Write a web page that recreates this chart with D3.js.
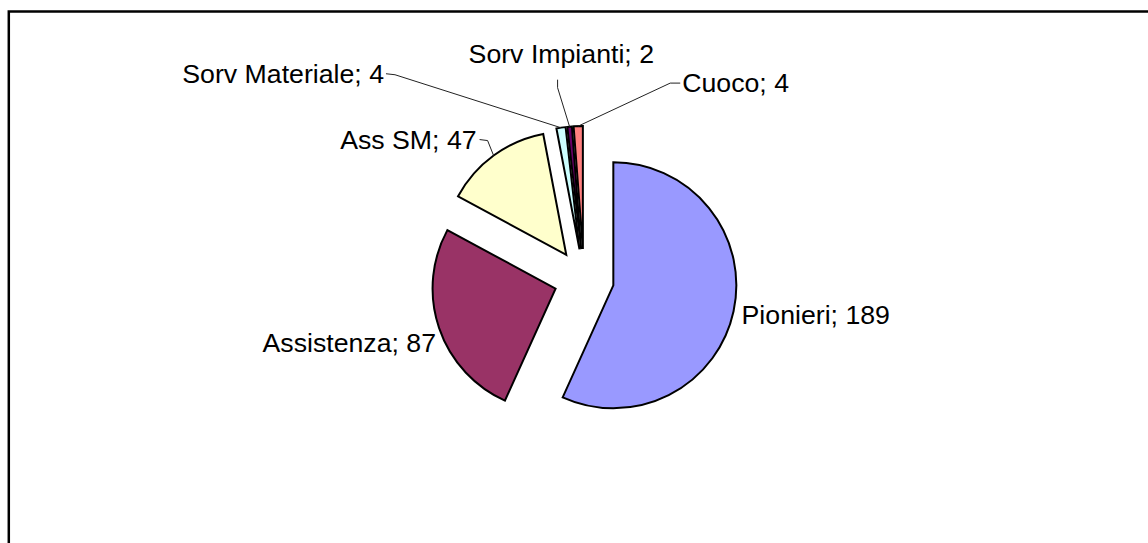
<!DOCTYPE html>
<html>
<head>
<meta charset="utf-8">
<script src="https://cdn.jsdelivr.net/npm/d3@7"></script>
<style>
  html, body { margin: 0; padding: 0; background: #fff; }
  svg { display: block; }
  text { font-family: "Liberation Sans", Arial, sans-serif; }
</style>
</head>
<body>
<svg id="chart" width="1148" height="543"></svg>
<script>
// ---- data ----
const categories = ["Pionieri", "Assistenza", "Ass SM", "Sorv Materiale", "Sorv Impianti", "Cuoco"];
const values = [189, 87, 47, 4, 2, 4];
const colors = ["#9999FF", "#993366", "#FFFFCC", "#CCFFFF", "#660066", "#FF8080"];

// ---- layout ----
const W = 1148, H = 543;
const cx = 584, cy = 279, radius = 123, explode = 30;
const fontSize = 26.7;
// label placement relative to the outer point of each slice's bisector
const labelLayout = [
  { anchor: "start", dx: 8,    dy: 13 },
  { anchor: "end",   dx: -3,   dy: 24 },
  { anchor: "end",   dx: -17,  dy: -7,  leader: [[3, -9], [11, -8]] },
  { anchor: "end",   dx: -177, dy: -45, leader: [[2, -9], [11, -8]] },
  { anchor: "start", dx: -101, dy: -64, leader: [[89, 17], [89, 25]] },
  { anchor: "start", dx: 104,  dy: -34, leader: [[-2, -9], [-12, -9]] }
];

const svg = d3.select("#chart");

// frame (only top and left edges visible in the picture)
svg.append("path")
  .attr("d", `M8.8,${H + 5} V11.5 H${W + 5}`)
  .attr("fill", "none")
  .attr("stroke", "#000")
  .attr("stroke-width", 2.5);

const pie = d3.pie().sort(null).value(d => d)
  .startAngle(0).endAngle(2 * Math.PI);
const arcs = pie(values);
const arcGen = d3.arc().innerRadius(0).outerRadius(radius);

const g = svg.append("g").attr("transform", `translate(${cx},${cy})`);

function dir(a) {
  const mid = (a.startAngle + a.endAngle) / 2;
  return [Math.sin(mid), -Math.cos(mid)];
}

g.selectAll("path.slice")
  .data(arcs)
  .join("path")
  .attr("class", "slice")
  .attr("d", arcGen)
  .attr("transform", d => {
    const [ux, uy] = dir(d);
    return `translate(${ux * explode},${uy * explode})`;
  })
  .attr("fill", (d, i) => colors[i])
  .attr("stroke", "#000")
  .attr("stroke-width", 2)
  .attr("stroke-linejoin", "miter");

// labels and leader lines
arcs.forEach((d, i) => {
  const [ux, uy] = dir(d);
  const ox = ux * (explode + radius), oy = uy * (explode + radius);
  const L = labelLayout[i];
  const lx = ox + L.dx, ly = oy + L.dy;
  if (L.leader) {
    const pts = L.leader.map(p => [lx + p[0], ly + p[1]]);
    pts.push([ox, oy]);
    g.append("path")
      .attr("d", d3.line()(pts))
      .attr("fill", "none")
      .attr("stroke", "#222")
      .attr("stroke-width", 1);
  }
  g.append("text")
    .attr("x", lx)
    .attr("y", ly)
    .attr("text-anchor", L.anchor)
    .attr("font-size", fontSize)
    .attr("fill", "#000")
    .text(`${categories[i]}; ${values[i]}`);
});
</script>
</body>
</html>
